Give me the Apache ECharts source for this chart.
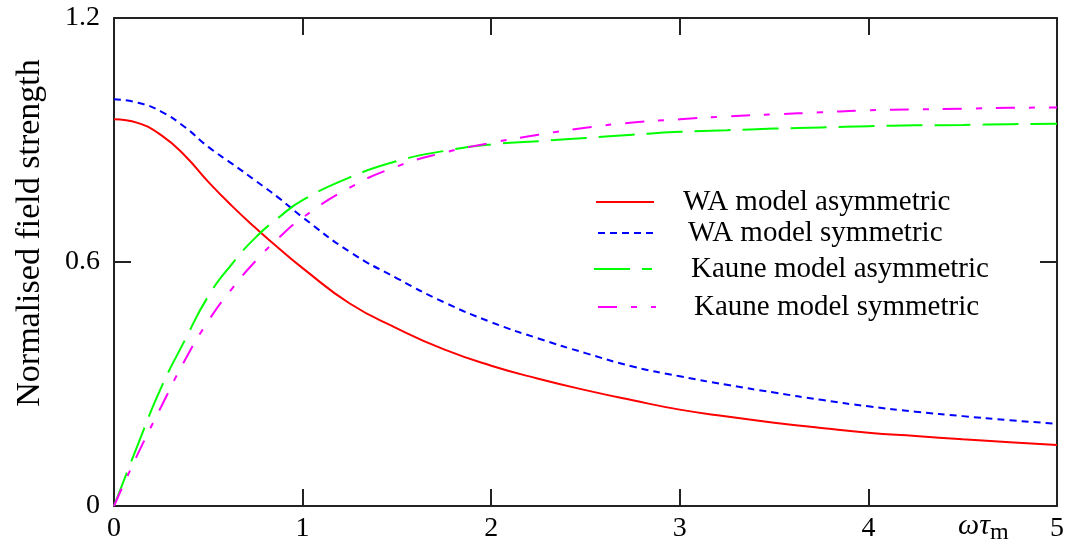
<!DOCTYPE html>
<html>
<head>
<meta charset="utf-8">
<script src="https://cdn.jsdelivr.net/npm/echarts@6/dist/echarts.min.js"></script>
<style>
  html, body { margin: 0; padding: 0; background: #fff; }
  #chart { width: 1069px; height: 553px; }
</style>
</head>
<body>
<div id="chart"></div>
<script>
// x = omega * tau_m
var xs = [0, 0.125, 0.25, 0.375, 0.5, 0.625, 0.75, 0.875, 1, 1.25, 1.5, 1.75, 2, 2.25, 2.5, 2.75, 3, 3.25, 3.5, 3.75, 4, 4.25, 4.5, 4.75, 5];
var waAsym = [0.951, 0.942, 0.912, 0.862, 0.797, 0.738, 0.684, 0.633, 0.585, 0.498, 0.437, 0.385, 0.345, 0.313, 0.285, 0.260, 0.237, 0.220, 0.205, 0.192, 0.180, 0.172, 0.164, 0.157, 0.150];
var waSym = [1.0, 0.992, 0.970, 0.932, 0.883, 0.842, 0.800, 0.757, 0.710, 0.625, 0.560, 0.501, 0.452, 0.412, 0.376, 0.343, 0.319, 0.298, 0.279, 0.261, 0.245, 0.232, 0.221, 0.211, 0.202];
var kauneAsym = [0, 0.149, 0.291, 0.407, 0.516, 0.595, 0.660, 0.710, 0.752, 0.808, 0.848, 0.873, 0.889, 0.897, 0.905, 0.913, 0.920, 0.924, 0.928, 0.931, 0.934, 0.936, 0.937, 0.939, 0.940];
var kauneSym = [0, 0.127, 0.244, 0.358, 0.455, 0.534, 0.602, 0.660, 0.709, 0.783, 0.835, 0.869, 0.893, 0.913, 0.930, 0.943, 0.951, 0.958, 0.963, 0.968, 0.973, 0.975, 0.977, 0.979, 0.980];
var names = ['WA model asymmetric', 'WA model symmetric', 'Kaune model asymmetric', 'Kaune model symmetric'];

var FONT = '"Liberation Serif", "Times New Roman", serif';

function pairs(ys) {
	var out = [];
	for (var i = 0; i < xs.length; i++) {
		out.push([xs[i], ys[i]]);
	}
	return out;
}

function frameAxis(pos, showLabel) {
	return {
		type : 'value',
		position : pos,
		axisLine : { show : true, onZero : false, lineStyle : { color : '#222', width : 2 } },
		axisTick : { show : true, inside : true, length : 17, lineStyle : { color : '#222', width : 2 } },
		axisLabel : { show : showLabel, color : '#000', fontFamily : FONT, fontSize : 28 },
		splitLine : { show : false }
	};
}

var myChart = echarts.init(document.getElementById('chart'));

var xBottom = frameAxis('bottom', true);
xBottom.min = 0; xBottom.max = 5; xBottom.interval = 1;
xBottom.axisLabel.margin = 9;
var xTop = frameAxis('top', false);
xTop.min = 0; xTop.max = 5; xTop.interval = 1;

var yLeft = frameAxis('left', true);
yLeft.min = 0; yLeft.max = 1.2; yLeft.interval = 0.6;
yLeft.axisLabel.margin = 14;
yLeft.name = 'Normalised field strength';
yLeft.nameLocation = 'middle';
yLeft.nameGap = 67;
yLeft.nameTextStyle = { color : '#000', fontFamily : FONT, fontSize : 34, padding : [ 0, 0, 0, 58 ] };
var yRight = frameAxis('right', false);
yRight.min = 0; yRight.max = 1.2; yRight.interval = 0.6;

function legendAt(name, left, top, textPad) {
	return {
		data : [ name ],
		orient : 'vertical',
		left : left,
		top : top,
		padding : 0,
		itemWidth : 58,
		itemHeight : 14,
		itemStyle : { opacity : 0 },
		selectedMode : false,
		textStyle : { color : '#000', fontFamily : FONT, fontSize : 29, lineHeight : 30, padding : [ 0, 0, 0, textPad ] }
	};
}

option = {
	animation : false,
	grid : { left : 114, top : 18, right : 12, bottom : 47, containLabel : false, outerBoundsMode : 'none' },
	xAxis : [ xBottom, xTop ],
	yAxis : [ yLeft, yRight ],
	legend : [
		legendAt(names[0], 595, 187, 24),
		legendAt(names[1], 597, 218, 27),
		legendAt(names[2], 593, 254, 34),
		legendAt(names[3], 597, 292, 33)
	],
	graphic : [ {
		type : 'text',
		left : 958,
		top : 511,
		style : {
			text : '{a|ωτ}{b|m}',
			rich : {
				a : { fontFamily : FONT, fontSize : 30, fontStyle : 'italic', fill : '#000' },
				b : { fontFamily : FONT, fontSize : 24, fill : '#000', padding : [ 14, 0, 0, 0 ] }
			}
		}
	} ],
	series : [ {
		name : names[0],
		type : 'line',
		smooth : true,
		symbol : 'none',
		data : pairs(waAsym),
		lineStyle : { color : '#ff0000', width : 2 },
		itemStyle : { color : '#ff0000' }
	}, {
		name : names[1],
		type : 'line',
		smooth : true,
		symbol : 'none',
		data : pairs(waSym),
		lineStyle : { color : '#0000ff', width : 2, type : [ 7, 5 ] },
		itemStyle : { color : '#0000ff' }
	}, {
		name : names[2],
		type : 'line',
		smooth : true,
		symbol : 'none',
		data : pairs(kauneAsym),
		lineStyle : { color : '#00ff00', width : 2, type : [ 36, 12 ] },
		itemStyle : { color : '#00ff00' }
	}, {
		name : names[3],
		type : 'line',
		smooth : true,
		symbol : 'none',
		data : pairs(kauneSym),
		lineStyle : { color : '#ff00ff', width : 2, type : [ 19, 14, 6, 14 ] },
		itemStyle : { color : '#ff00ff' }
	} ]
};
myChart.setOption(option);
</script>
</body>
</html>
